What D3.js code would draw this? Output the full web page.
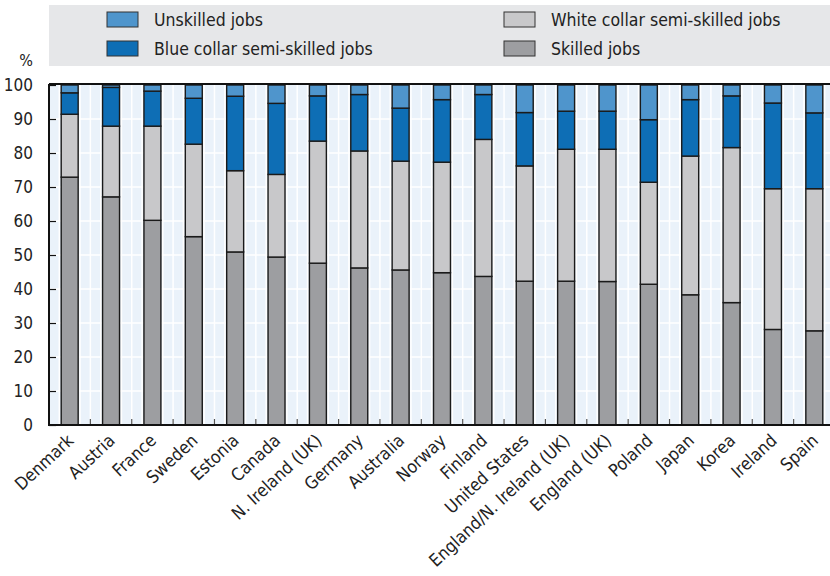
<!DOCTYPE html>
<html>
<head>
<meta charset="utf-8">
<script src="https://cdn.jsdelivr.net/npm/d3@7"></script>
<style>
  body { margin: 0; background: #fff; }
  svg text { font-family: "DejaVu Sans Condensed", "Liberation Sans", sans-serif; fill: #222; }
</style>
</head>
<body>
<svg id="chart" width="830" height="576"></svg>
<script>
'use strict';

// values, share of jobs in %
const categories = ["Denmark", "Austria", "France", "Sweden", "Estonia", "Canada", "N. Ireland (UK)",
  "Germany", "Australia", "Norway", "Finland", "United States", "England/N. Ireland (UK)",
  "England (UK)", "Poland", "Japan", "Korea", "Ireland", "Spain"];
const skilled     = [72.9, 67.1, 60.2, 55.4, 50.9, 49.4, 47.6, 46.2, 45.6, 44.8, 43.7, 42.3, 42.3, 42.2, 41.4, 38.3, 36.0, 28.1, 27.7];
const whiteCollar = [18.5, 20.8, 27.7, 27.2, 23.9, 24.3, 35.9, 34.4, 32.0, 32.5, 40.3, 33.9, 38.8, 38.9, 30.0, 40.8, 45.6, 41.4, 41.8];
const blueCollar  = [ 6.3, 11.4, 10.3, 13.5, 21.9, 20.9, 13.3, 16.6, 15.6, 18.4, 13.2, 15.7, 11.2, 11.2, 18.4, 16.6, 15.2, 25.2, 22.3];
const unskilled   = [ 2.3,  0.7,  1.8,  3.9,  3.3,  5.4,  3.2,  2.8,  6.8,  4.3,  2.8,  8.1,  7.7,  7.7, 10.2,  4.3,  3.2,  5.3,  8.2];
const yTicks = [0, 10, 20, 30, 40, 50, 60, 70, 80, 90, 100];

const seriesKeys = ["skilled", "white", "blue", "unskilled"];
const seriesColor = {skilled: "#9d9ea1", white: "#c8c8ca", blue: "#0e6eb5", unskilled: "#4f95cc"};

// legend entries, in the order they appear (row by row)
const legendItems = [
  {key: "unskilled", label: "Unskilled jobs", col: 0, row: 0},
  {key: "white", label: "White collar semi-skilled jobs", col: 1, row: 0},
  {key: "blue", label: "Blue collar semi-skilled jobs", col: 0, row: 1},
  {key: "skilled", label: "Skilled jobs", col: 1, row: 1}
];

let rows = categories.map((c, i) => ({
  country: c, skilled: skilled[i], white: whiteCollar[i], blue: blueCollar[i], unskilled: unskilled[i]
}));

let svg = d3.select("#chart");
let marginLeft = 49, marginTop = 84, plotBottom = 425, plotRight = 835;

let band = d3.scaleBand().domain(categories).range([marginLeft, plotRight]);
let xBar = d3.scaleBand().domain(categories).range([marginLeft, plotRight])
  .paddingInner(0.59).paddingOuter(0.295);
let y = d3.scaleLinear().domain([0, 100]).range([plotBottom, marginTop + 1]);

// legend box
svg.append("rect")
  .attr("x", marginLeft).attr("y", 5)
  .attr("width", 830 - marginLeft).attr("height", 61)
  .style("fill", "#e6e7e9");

let legend = svg.append("g");
legendItems.forEach(item => {
  let lx = item.col === 0 ? 107 : 504;
  let ly = item.row === 0 ? 12 : 41;
  legend.append("rect")
    .attr("x", lx).attr("y", ly)
    .attr("width", 31).attr("height", 15)
    .style("fill", seriesColor[item.key])
    .style("stroke", "#333").style("stroke-width", 1);
  legend.append("text")
    .attr("x", lx + 47).attr("y", ly + 14)
    .style("font-size", "17.5px")
    .text(item.label);
});

// "%" unit label
svg.append("text")
  .attr("x", 33).attr("y", 66)
  .attr("text-anchor", "end")
  .style("font-size", "16px")
  .text("%");

// plot background
svg.append("clipPath").attr("id", "plotClip")
  .append("rect").attr("x", marginLeft).attr("y", marginTop)
  .attr("width", 830 - marginLeft).attr("height", plotBottom - marginTop);

let plot = svg.append("g").attr("clip-path", "url(#plotClip)");
plot.append("rect")
  .attr("x", marginLeft).attr("y", marginTop)
  .attr("width", plotRight - marginLeft).attr("height", plotBottom - marginTop)
  .style("fill", "#eaf2fa");

// white grid lines: horizontal at each y tick, vertical every quarter of a band
plot.selectAll(".hgrid")
  .data(yTicks.filter(t => t > 0 && t < 100))
  .enter().append("line")
  .attr("class", "hgrid")
  .attr("x1", marginLeft).attr("x2", plotRight)
  .attr("y1", d => y(d)).attr("y2", d => y(d))
  .style("stroke", "#fff").style("stroke-width", 1.5);

let quarters = [];
categories.forEach(c => {
  [0, 0.25, 0.75].forEach(q => quarters.push(band(c) + q * band.step()));
});
plot.selectAll(".vgrid")
  .data(quarters)
  .enter().append("line")
  .attr("class", "vgrid")
  .attr("x1", d => d).attr("x2", d => d)
  .attr("y1", marginTop).attr("y2", plotBottom)
  .style("stroke", "#fff").style("stroke-width", 1.5);

// stacked bars
let stacked = d3.stack().keys(seriesKeys)(rows);
plot.selectAll(".layer")
  .data(stacked)
  .enter().append("g")
  .attr("class", "layer")
  .style("fill", d => seriesColor[d.key])
  .selectAll("rect")
  .data(d => d)
  .enter().append("rect")
  .attr("x", d => xBar(d.data.country))
  .attr("y", d => y(d[1]))
  .attr("width", xBar.bandwidth())
  .attr("height", d => y(d[0]) - y(d[1]))
  .style("stroke", "#1a1a1a").style("stroke-width", 1.4);

// x ticks at band boundaries, pointing up into the plot
svg.selectAll(".xtick")
  .data(categories.slice(1))
  .enter().append("line")
  .attr("class", "xtick")
  .attr("x1", d => band(d)).attr("x2", d => band(d))
  .attr("y1", plotBottom).attr("y2", plotBottom - 6)
  .style("stroke", "#555").style("stroke-width", 1.2);

// y axis with inward ticks
let yAxis = svg.append("g")
  .attr("transform", `translate(${marginLeft},0)`)
  .call(d3.axisLeft(y).tickValues(yTicks).tickSizeInner(-7).tickSizeOuter(0).tickPadding(16));
yAxis.select(".domain").remove();
yAxis.selectAll(".tick line").style("stroke", "#111").style("stroke-width", 1.2);
yAxis.selectAll(".tick text")
  .style("font-size", "17px")
  .style("font-family", "'DejaVu Sans Condensed', 'Liberation Sans', sans-serif")
  .style("fill", "#222");

// frame lines: left, top, bottom
svg.append("line").attr("x1", marginLeft).attr("x2", marginLeft)
  .attr("y1", marginTop).attr("y2", plotBottom + 1)
  .style("stroke", "#111").style("stroke-width", 2);
svg.append("line").attr("x1", marginLeft).attr("x2", 830)
  .attr("y1", marginTop).attr("y2", marginTop)
  .style("stroke", "#111").style("stroke-width", 2);
svg.append("line").attr("x1", marginLeft - 1).attr("x2", 830)
  .attr("y1", plotBottom).attr("y2", plotBottom)
  .style("stroke", "#111").style("stroke-width", 2);

// rotated category labels
svg.selectAll(".xlabel")
  .data(categories)
  .enter().append("text")
  .attr("class", "xlabel")
  .attr("text-anchor", "end")
  .attr("transform", d => `translate(${band(d) + band.step() / 2 + 5},${plotBottom + 17}) rotate(-43)`)
  .style("font-size", "17.5px")
  .text(d => d);
</script>
</body>
</html>
